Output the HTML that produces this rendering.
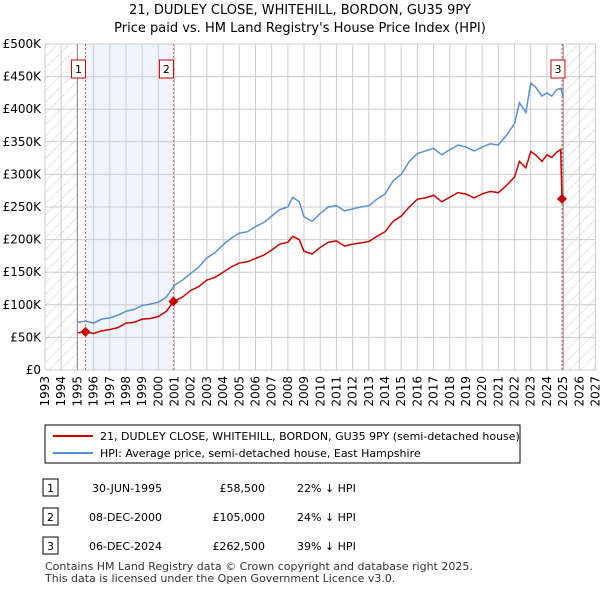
<!DOCTYPE html>
<html><head><meta charset="utf-8"><style>
body{margin:0;background:#fff;font-family:"Liberation Sans",sans-serif;}
svg text{font-family:"DejaVu Sans","Liberation Sans",sans-serif;}
</style></head><body>
<svg id="c" width="600" height="590" xmlns="http://www.w3.org/2000/svg">
<defs><pattern id="h" width="8" height="8" patternUnits="userSpaceOnUse" patternTransform="rotate(45)"><line x1="0" y1="0" x2="0" y2="8" stroke="#ccc" stroke-width="1"/></pattern></defs>
<text x="300" y="14" text-anchor="middle" font-size="13">21, DUDLEY CLOSE, WHITEHILL, BORDON, GU35 9PY</text>
<text x="300" y="32" text-anchor="middle" font-size="13">Price paid vs. HM Land Registry's House Price Index (HPI)</text>
<g id="plot"></g>
<rect x="45" y="425" width="475" height="38" fill="#fff" stroke="#000"/>
<line x1="53" y1="436" x2="93" y2="436" stroke="#cc0000" stroke-width="2"/>
<text x="100" y="440" font-size="11">21, DUDLEY CLOSE, WHITEHILL, BORDON, GU35 9PY (semi-detached house)</text>
<line x1="53" y1="453" x2="93" y2="453" stroke="#5b8fd4" stroke-width="2"/>
<text x="100" y="457" font-size="11">HPI: Average price, semi-detached house, East Hampshire</text>
<g font-size="11">
<rect x="43" y="479" width="15" height="17" fill="#fff" stroke="#000"/><text x="50.5" y="492" text-anchor="middle">1</text>
<text x="92" y="492">30-JUN-1995</text><text x="265" y="492" text-anchor="end">£58,500</text><text x="297" y="492">22% ↓ HPI</text>
<rect x="43" y="508" width="15" height="17" fill="#fff" stroke="#000"/><text x="50.5" y="521" text-anchor="middle">2</text>
<text x="89" y="521">08-DEC-2000</text><text x="265" y="521" text-anchor="end">£105,000</text><text x="297" y="521">24% ↓ HPI</text>
<rect x="43" y="537" width="15" height="17" fill="#fff" stroke="#000"/><text x="50.5" y="550" text-anchor="middle">3</text>
<text x="89" y="550">06-DEC-2024</text><text x="265" y="550" text-anchor="end">£262,500</text><text x="297" y="550">39% ↓ HPI</text>
</g>
<text x="45" y="570" font-size="11" fill="#333">Contains HM Land Registry data © Crown copyright and database right 2025.</text>
<text x="45" y="582" font-size="11" fill="#333">This data is licensed under the Open Government Licence v3.0.</text>
</svg>
<script>
const yearTicks=[1993,1994,1995,1996,1997,1998,1999,2000,2001,2002,2003,2004,2005,2006,2007,2008,2009,2010,2011,2012,2013,2014,2015,2016,2017,2018,2019,2020,2021,2022,2023,2024,2025,2026,2027];
const valueTicks=[0,50,100,150,200,250,300,350,400,450,500];
const valueLabels=["£0","£50K","£100K","£150K","£200K","£250K","£300K","£350K","£400K","£450K","£500K"];
const hpiDates=[1995.0,1995.5,1996.0,1996.5,1997.0,1997.5,1998.0,1998.5,1999.0,1999.5,2000.0,2000.5,2001.0,2001.5,2002.0,2002.5,2003.0,2003.5,2004.0,2004.5,2005.0,2005.5,2006.0,2006.5,2007.0,2007.5,2008.0,2008.3,2008.7,2009.0,2009.5,2010.0,2010.5,2011.0,2011.5,2012.0,2012.5,2013.0,2013.5,2014.0,2014.5,2015.0,2015.5,2016.0,2016.5,2017.0,2017.5,2018.0,2018.5,2019.0,2019.5,2020.0,2020.5,2021.0,2021.5,2022.0,2022.3,2022.7,2023.0,2023.3,2023.7,2024.0,2024.3,2024.6,2024.85,2025.0];
const hpiValues=[73,75,72,78,80,84,90,93,99,101,104,112,130,138,148,158,172,180,192,202,210,212,220,226,236,246,250,265,258,235,228,240,250,252,244,247,250,252,262,270,290,300,320,332,336,340,330,338,345,342,336,342,347,345,360,378,410,395,440,434,420,425,420,430,432,420];
const saleDates=[1995.5,2000.93,2024.93];
const salePrices=[58.5,105,262.5];
const priceDates=[1995.0,1995.5,1996.0,1996.5,1997.0,1997.5,1998.0,1998.5,1999.0,1999.5,2000.0,2000.5,2000.93,2001.5,2002.0,2002.5,2003.0,2003.5,2004.0,2004.5,2005.0,2005.5,2006.0,2006.5,2007.0,2007.5,2008.0,2008.3,2008.7,2009.0,2009.5,2010.0,2010.5,2011.0,2011.5,2012.0,2012.5,2013.0,2013.5,2014.0,2014.5,2015.0,2015.5,2016.0,2016.5,2017.0,2017.5,2018.0,2018.5,2019.0,2019.5,2020.0,2020.5,2021.0,2021.5,2022.0,2022.3,2022.7,2023.0,2023.3,2023.7,2024.0,2024.3,2024.6,2024.85,2024.93];
const priceValues=[57,58.5,56,60,62,65,72,73,78,79,82,90,105,112,122,128,138,142,150,158,164,166,171,176,184,193,196,205,200,182,178,188,196,198,190,193,195,197,205,212,228,236,250,262,264,268,258,265,272,270,264,270,274,272,283,296,320,310,335,330,320,330,326,334,338,262.5];
const X0=45,X1=595.5,Y0=370,Y1=44;
const xs=d=>X0+(d-1993)/34*(X1-X0);
const ys=v=>Y0-v/500*(Y0-Y1);
const NS="http://www.w3.org/2000/svg";
const g=document.getElementById('plot');
function mk(t,a){const e=document.createElementNS(NS,t);for(const k in a)e.setAttribute(k,a[k]);g.appendChild(e);return e;}
let e;
e=mk('rect',{x:xs(1995.5),y:Y1,width:xs(2000.93)-xs(1995.5),height:Y0-Y1,fill:'#eef3fc'});


e=mk('rect',{x:X0,y:Y1,width:xs(1995)-X0,height:Y0-Y1,fill:'url(#h)'});


e=mk('rect',{x:xs(2025),y:Y1,width:X1-xs(2025),height:Y0-Y1,fill:'url(#h)'});


yearTicks.forEach(y=>{e=mk('line',{x1:xs(y),x2:xs(y),y1:Y1,y2:Y0,stroke:'#cccccc'});


const t=mk('text',{x:0,y:0,'font-size':12,'text-anchor':'end',transform:`translate(${xs(y)+4},${Y0+6}) rotate(-90)`});t.textContent=y;

});
valueTicks.forEach((v,i)=>{e=mk('line',{x1:X0,x2:X1,y1:ys(v),y2:ys(v),stroke:'#cccccc'});


const t=mk('text',{x:X0-4,y:ys(v)+4,'font-size':12,'text-anchor':'end'});t.textContent=valueLabels[i];

});
[1995,2025].forEach(y=>{e=mk('line',{x1:xs(y),x2:xs(y),y1:Y1,y2:Y0,stroke:'#888'});

});
saleDates.forEach((d,i)=>{e=mk('line',{x1:xs(d),x2:xs(d),y1:Y1,y2:Y0,stroke:'#e06060','stroke-dasharray':'2,2'});


const bx=i==2?xs(d)-11:xs(d)-14;
e=mk('rect',{x:bx,y:60,width:14,height:18,fill:'#fff',stroke:'#cc0000'});


const t=mk('text',{x:bx+7,y:73,'font-size':11,'text-anchor':'middle'});t.textContent=i+1;

});
e=mk('polyline',{points:hpiDates.map((d,i)=>xs(d)+','+ys(hpiValues[i])).join(' '),fill:'none',stroke:'#5b8fd4','stroke-width':1.5});


e=mk('polyline',{points:priceDates.map((d,i)=>xs(d)+','+ys(priceValues[i])).join(' '),fill:'none',stroke:'#cc0000','stroke-width':1.5});


saleDates.forEach((d,i)=>{const x=xs(d),y=ys(salePrices[i]);
e=mk('polygon',{points:`${x},${y-5} ${x+5},${y} ${x},${y+5} ${x-5},${y}`,fill:'#cc0000'});

});
</script>
</body></html>
